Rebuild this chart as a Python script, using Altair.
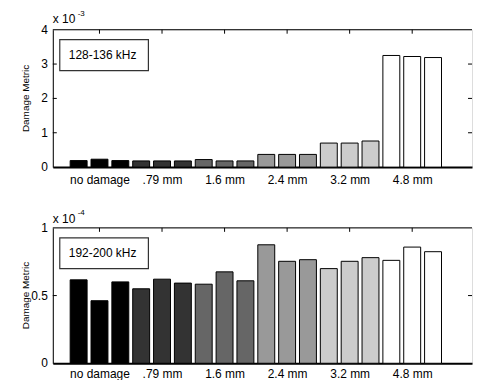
import altair as alt
import pandas as pd

# ---- data -------------------------------------------------------------
groups = ["no damage", ".79 mm", "1.6 mm", "2.4 mm", "3.2 mm", "4.8 mm"]
group_colors = ["#000000", "#333333", "#666666", "#999999", "#cccccc", "#ffffff"]
bars_per_group = 3

# top panel, values in units of 1e-3
top_values = [0.19, 0.23, 0.19, 0.18, 0.18, 0.18, 0.22, 0.18, 0.18,
              0.37, 0.37, 0.37, 0.70, 0.70, 0.76, 3.25, 3.22, 3.19]
# bottom panel, values in units of 1e-4
bottom_values = [0.616, 0.462, 0.601, 0.550, 0.621, 0.592, 0.584, 0.675, 0.609,
                 0.875, 0.753, 0.765, 0.699, 0.753, 0.780, 0.760, 0.858, 0.824]

top_label = "128-136 kHz"
bottom_label = "192-200 kHz"
top_exp = "-3"
bottom_exp = "-4"
top_ticks = [0, 1, 2, 3, 4]
top_tick_labels = ["0", "1", "2", "3", "4"]
bottom_ticks = [0, 0.5, 1]
bottom_tick_labels = ["0", "0.5", "1"]
y_title = "Damage Metric"

# ---- layout -----------------------------------------------------------
W = 421
X_MAX = 19.63
FONT = "Liberation Sans"

positions = list(range(1, len(groups) * bars_per_group + 1))
centers = [2 + 3 * i for i in range(len(groups))]
label_expr = "[" + ",".join("'%s'" % g for g in groups) + "][round((datum.value - 2) / 3)]"


def panel(values, ymax, yticks, ylabels, label, exp, H, label_pad, base_y, exp_y):
    df = pd.DataFrame({
        "pos": positions,
        "value": values,
        "group": [g for g in groups for _ in range(bars_per_group)],
    })
    xs = alt.Scale(domain=[0, X_MAX], nice=False, zero=False)
    ys = alt.Scale(domain=[0, ymax], nice=False)

    bars = alt.Chart(df).mark_bar(size=17, stroke="black", strokeWidth=1, orient="vertical").encode(
        x=alt.X("pos:Q", scale=xs, axis=alt.Axis(
            values=centers, labelExpr=label_expr, ticks=False, grid=False, title=None,
            domainWidth=2, domainColor="black", labelFontSize=12, labelColor="black",
            labelPadding=label_pad, labelFont=FONT, labelOverlap=False)),
        y=alt.Y("value:Q", scale=ys, axis=alt.Axis(
            values=yticks, labels=False, ticks=False, grid=False, title=None,
            domainColor="black", domainWidth=1)),
        color=alt.Color("group:N", scale=alt.Scale(domain=groups, range=group_colors), legend=None),
    )

    ldf = pd.DataFrame({"value": yticks, "lab": ylabels})
    y_labels = alt.Chart(ldf).mark_text(align="right", baseline="middle", fontSize=12,
                                        font=FONT, color="black").encode(
        x=alt.value(-5), y=alt.Y("value:Q"), text="lab:N")

    inner = [t for t in yticks if 0 < t < ymax]
    tdf = pd.DataFrame({"value": inner})
    left_ticks = alt.Chart(tdf).mark_rule(color="black").encode(
        x=alt.value(0), x2=alt.value(4), y=alt.Y("value:Q"))
    right_ticks = alt.Chart(tdf).mark_rule(color="black").encode(
        x=alt.value(W - 4), x2=alt.value(W), y=alt.Y("value:Q"))
    cdf = pd.DataFrame({"pos": centers})
    top_ticks_l = alt.Chart(cdf).mark_rule(color="black").encode(
        x=alt.X("pos:Q"), y=alt.value(0), y2=alt.value(4))

    one = pd.DataFrame({"label": [label], "exp": [exp], "base": ["x 10"], "title": [y_title]})
    top_border = alt.Chart(one).mark_rule(color="black").encode(
        x=alt.value(0), x2=alt.value(W), y=alt.value(0))
    box = alt.Chart(one).mark_rect(fill="white", stroke="#333333", strokeWidth=1.2).encode(
        x=alt.value(7), x2=alt.value(96), y=alt.value(10), y2=alt.value(41))
    box_text = alt.Chart(one).mark_text(align="left", baseline="alphabetic", fontSize=12,
                                        font=FONT, color="black").encode(
        x=alt.value(16), y=alt.value(29), text="label:N")
    base_text = alt.Chart(one).mark_text(align="left", baseline="alphabetic", fontSize=12,
                                         font=FONT, color="black").encode(
        x=alt.value(0), y=alt.value(base_y), text="base:N")
    exp_text = alt.Chart(one).mark_text(align="left", baseline="alphabetic", fontSize=8,
                                        font=FONT, color="black").encode(
        x=alt.value(25), y=alt.value(exp_y), text="exp:N")
    title_text = alt.Chart(one).mark_text(align="center", baseline="middle", fontSize=10,
                                          angle=270, font=FONT, color="black").encode(
        x=alt.value(-27), y=alt.value(H / 2), text="title:N")

    return alt.layer(bars, y_labels, left_ticks, right_ticks, top_ticks_l, top_border,
                     box, box_text, base_text, exp_text, title_text).properties(width=W, height=H)


top = panel(top_values, 4, top_ticks, top_tick_labels, top_label, top_exp, 138, 7, -7, -14)
bottom = panel(bottom_values, 1, bottom_ticks, bottom_tick_labels, bottom_label, bottom_exp,
               136, 5, -5, -13)

chart = alt.vconcat(top, bottom, spacing=22).properties(
    padding={"left": 12, "top": 0, "right": 0, "bottom": 0}
).configure_view(stroke=None).configure(font=FONT)

chart.save("out.html", embed_options={"renderer": "svg", "actions": False})
